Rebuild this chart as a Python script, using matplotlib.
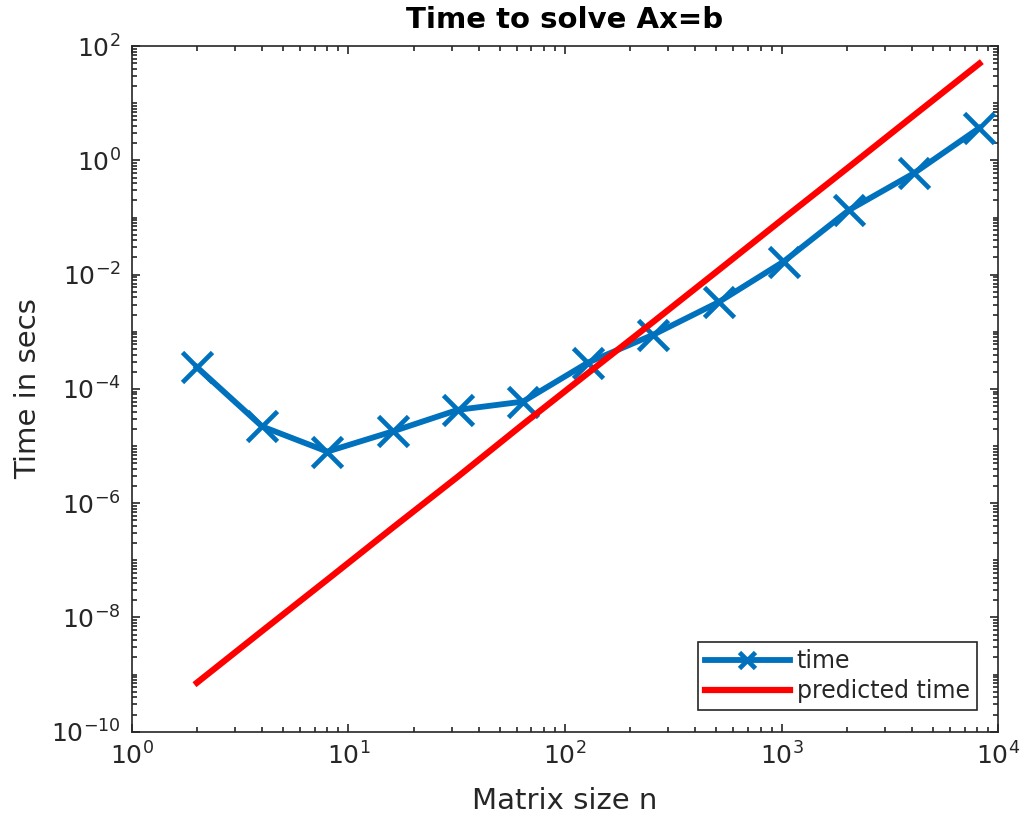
import numpy as np
import matplotlib.pyplot as plt
from matplotlib.ticker import LogLocator, FixedLocator, NullFormatter

n = [2, 4, 8, 16, 32, 64, 128, 256, 512, 1024, 2048, 4096, 8192]
time = [2.4e-4, 2.2e-5, 8.0e-6, 1.8e-5, 4.3e-5, 6.0e-5, 2.9e-4,
        8.9e-4, 3.3e-3, 1.7e-2, 1.35e-1, 6.0e-1, 3.7]
predicted = [7.2e-10, 5.8e-9, 4.6e-8, 3.7e-7, 2.9e-6, 2.4e-5, 1.9e-4,
             1.5e-3, 1.2e-2, 9.7e-2, 7.7e-1, 6.2, 49.5]

grey = '#262626'
plt.rcParams['font.family'] = 'DejaVu Sans'
plt.rcParams['axes.unicode_minus'] = False

fig = plt.figure(figsize=(10.29, 8.24), dpi=100)
ax = fig.add_axes([0.128, 0.112, 0.842, 0.832])

ax.loglog(n, time, color='#0072BD', linewidth=4.2, marker='x',
          markersize=21, markeredgewidth=3.4, label='time')
ax.loglog(n, predicted, color='#FF0000', linewidth=4.5, label='predicted time')

ax.set_xlim(1, 1e4)
ax.set_ylim(1e-10, 1e2)

ax.xaxis.set_major_locator(LogLocator(base=10, numticks=10))
ax.xaxis.set_minor_locator(LogLocator(base=10, subs=np.arange(2, 10), numticks=100))
ax.yaxis.set_major_locator(FixedLocator([10.0**k for k in range(-10, 3, 2)]))
ymin = [m * 10.0**k for k in range(-10, 2) for m in range(1, 10)
        if not (m == 1 and k % 2 == 0)]
ax.yaxis.set_minor_locator(FixedLocator(ymin))
ax.xaxis.set_minor_formatter(NullFormatter())
ax.yaxis.set_minor_formatter(NullFormatter())

ax.tick_params(which='both', direction='in', top=True, right=True,
               colors=grey, labelsize=18, width=1.2)
ax.tick_params(which='major', length=6, pad=8)
ax.tick_params(which='minor', length=3.5)
for s in ax.spines.values():
    s.set_color(grey)
    s.set_linewidth(1.2)

ax.set_title('Time to solve Ax=b', fontsize=21, fontweight='bold', pad=13)
ax.set_xlabel('Matrix size n', fontsize=21, color=grey, labelpad=12)
ax.set_ylabel('Time in secs', fontsize=21, color=grey, labelpad=6)

leg = ax.legend(loc='lower right', fontsize=17, handlelength=3.6,
                fancybox=False, framealpha=1, edgecolor=grey,
                borderaxespad=0.9, borderpad=0.3, labelspacing=0.25,
                handletextpad=0.3)
leg.get_frame().set_linewidth(1.2)
leg.legend_handles[0].set_markersize(12)
for t in leg.get_texts():
    t.set_color(grey)

fig.savefig('out.png', dpi=100)
